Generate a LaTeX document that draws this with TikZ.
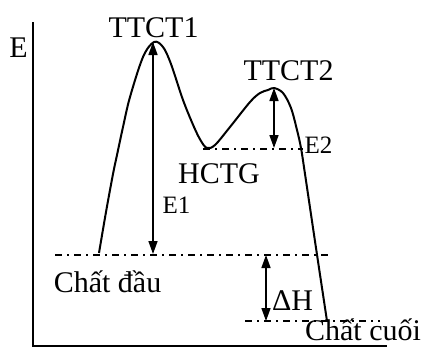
\documentclass[tikz,border=0pt]{standalone}
\usepackage{fontspec}
\setmainfont{Liberation Serif}
\usetikzlibrary{arrows.meta}
\begin{document}
\begin{tikzpicture}[x=1pt,y=-1pt,
  lbl/.style={inner sep=0pt,anchor=base,font=\fontsize{30}{34}\selectfont},
  smalllbl/.style={inner sep=0pt,anchor=base,font=\fontsize{25}{28}\selectfont},
  axisline/.style={line width=2.2pt},
  profile/.style={line width=2pt,line join=round},
  level/.style={line width=1.3pt,dash pattern=on 7pt off 5pt on 2pt off 5pt},
  gap/.style={line width=1.6pt,{Triangle[length=13pt,width=9pt]}-{Triangle[length=13pt,width=9pt]}}]
\useasboundingbox (0,0) rectangle (428,348);

% axes
\coordinate (top) at (33,22);
\coordinate (origin) at (33,346);
\coordinate (right) at (387,346);
\draw[axisline] (top) -- (origin) -- (right);
\node[lbl] (eaxis) at (18.5,57) {E};

% key points of the profile
\coordinate (start) at (99,255);
\coordinate (p1) at (154,42);
\coordinate (mid) at (207,148);
\coordinate (p2) at (274,88);
\coordinate (finish) at (327,321);

% reference levels
\draw[level] (55,255) -- (328,255);
\draw[level] (203,149) -- (303,149);
\draw[level] (245,321) -- (380,321);

% energy profile
\draw[profile] plot[smooth,tension=0.55] coordinates {
  (99,253) (106,212) (113,174) (117,155) (123,127) (130,97) (143,57) (154,42)
  (163,47) (171,64) (183,100) (194,127) (201,141) (207,148) (215,145) (230,127)
  (250,102) (260,93) (268,90) (274,88) (283,93) (291,108) (297,130)
  (301,148) (305,174) (316,248) (327,321)};

% energy gaps
\draw[gap] (153,254) -- (153,42);
\draw[gap] (274,148) -- (p2);
\draw[gap] (266,255) -- (266,321);

% labels
\node[lbl] (ttct1) at (153.5,37.5) {TTCT1};
\node[lbl] (ttct2) at (288.5,80) {TTCT2};
\node[lbl] (hctg) at (219,183) {HCTG};
\node[smalllbl] (e1) at (176.5,213) {E1};
\node[smalllbl] (e2) at (318.5,153) {E2};
\node[lbl] (cd) at (107.5,292) {Chất đầu};
\node[lbl] (dh) at (292.5,310) {ΔH};
\node[lbl] (cc) at (363,340) {Chất cuối};
\end{tikzpicture}
\end{document}
